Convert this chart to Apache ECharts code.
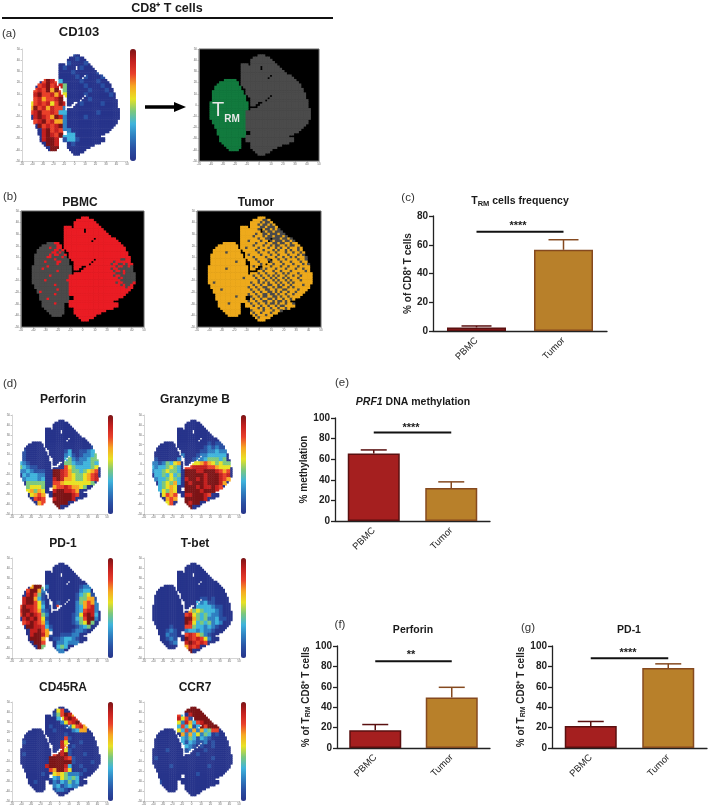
<!DOCTYPE html>
<html>
<head>
<meta charset="utf-8">
<style>html,body{margin:0;padding:0;background:#fff}#c{width:709px;height:810px}</style>
<script src="https://cdn.jsdelivr.net/npm/echarts@6/dist/echarts.min.js"></script>
</head>
<body>
<div id="c"></div>
<script>
// ---------- bar chart data ----------
const categories = ['PBMC', 'Tumor'];
const trmFreqMean = [2.5, 56.5];
const trmFreqUpper = [3.5, 63.5];
const prf1Mean = [65.5, 32];
const prf1Upper = [69, 38];
const perforinMean = [17.5, 49.5];
const perforinUpper = [23, 59.5];
const pd1Mean = [21.5, 78.5];
const pd1Upper = [26, 82.5];
const yTicks80 = [0, 20, 40, 60, 80];
const yTicks100 = [0, 20, 40, 60, 80, 100];

// ---------- t-SNE map outline, read row by row: [y, [x from, x to], ...] ----------
const outlineRows = [
[44,[0,4]],[42,[-4,8]],[40,[-6,10]],[38,[-6,12]],[36,[-14,-10],[-6,14]],
[34,[-14,-8],[-6,0],[4,16]],[32,[-14,0],[4,18]],[30,[-14,20]],[28,[-14,22]],
[26,[-14,8],[12,26]],[24,[-14,6],[10,28]],[22,[-28,-20],[-14,30]],[20,[-32,-18],[-14,32]],
[18,[-34,-18],[-14,34]],[16,[-36,-16],[-12,34]],[14,[-36,-16],[-10,36]],[12,[-38,-14],[-10,36]],
[10,[-38,-14],[-10,38]],[8,[-38,-12],[-8,8],[12,38]],[6,[-38,-12],[-6,6],[10,38]],
[4,[-38,-12],[-6,4],[8,40]],[2,[-40,-10],[-6,-2],[4,40]],[0,[-40,-10],[-6,-4],[2,40]],
[-2,[-40,-10],[0,40]],[-4,[-40,-10],[-6,42]],[-6,[-40,-12],[-10,42]],[-8,[-40,-12],[-10,42]],
[-10,[-40,-12],[-10,42]],[-12,[-40,-12],[-10,42]],[-14,[-38,-12],[-10,40]],[-16,[-38,-12],[-10,40]],
[-18,[-36,-12],[-10,38]],[-20,[-36,-12],[-10,36]],[-22,[-34,-12],[-10,34]],[-24,[-34,-12],[-6,32]],
[-26,[-34,-12],[-6,28]],[-28,[-32,-12],[-10,24]],[-30,[-32,-16],[-10,28]],[-32,[-32,-16],[-10,28]],
[-34,[-30,-16],[-6,24]],[-36,[-28,-16],[-6,18]],[-38,[-26,-16],[-6,14]],[-40,[-24,-18],[-4,10]],
[-42,[-2,8]],[-44,[0,4]]
];

// ---------- per-panel level maps (rows y=44..-44, columns x=-44..44) ----------
const cd103Levels = [
'00000000000100000000000','00000000000010000000000','00000000001000100000000','00000000010001000100000',
'00000000000100000100000','00000534000010100010000','00007987300001000100000','00078978840000100010000',
'00787969740000010001000','00897786850000100000100','00786778970000010000000','05787857980001000010000',
'06978687720000000000000','07897787330000000100000','00898769820000100000000','00789786620000000000000',
'00097878920000000000000','00008978722000000000000','00008987933300000000000','00008998813310000000000',
'00000998800100000000000','00000099000000000000000','00000000000000000000000'];
const trmRegion = [
'00000000000000000000000','00000000000000000000000','00000000000000000000000','00000000000000000000000',
'00000000000000000000000','00000000000000000000000','11111111000000000000000','11111111000000000000000',
'11111111100000000000000','11111111100000000000000','11111111100000000000000','11111111110000000000000',
'11111111110000000000000','11111111100000000000000','11111111100000000000000','11111111100000000000000',
'11111111100000000000000','11111111100000000000000','11111111100000000000000','11111111100000000000000',
'11111111100000000000000','11111111100000000000000','00000000000000000000000'];
// fine maps: rows y=44..-44 and columns x=-44..44 in steps of 2; characters left off the end count as 1
const pbmcRegion = [
'','','','','','','','','','','',
'00000000000110','000000000000110','000000000100110','0000000000011010','0000000000110100',
'00000000010110010','00000000110000100',
'000000000001000001111111111111111111110011111',
'000000010000110001111111111111111110111111111',
'000000000000100001111111111111111101100101111',
'000000001000000000111111111111111111011001011',
'000000100000000000111111111111111101100000011',
'000000000000100000011111111111111110110100001',
'000000000000000000111111111111111111000100001',
'000000000100000001111111111111111110110000001',
'000000000000000001111111111111111111101000001',
'000000010000000011111111111111111111110000001',
'000000000000000001111111111111111111011000011',
'000000000001000001111111111111111111110100111',
'000000000000000001111111111111111111111101111',
'00000000000010000','00000100000000000','00000000000100000','00000000000000000',
'00000000100000000','00000000000000000','00000000000100000','00000000000000000',
'00000010000000000','00000000000000000','00000000000000000','00000000000000000','',''];
const tumorRegion = [
'111111111111111111111111100000000000000000000',
'111111111111111111111111001111111111111111111',
'111111111111111111111110100111111111111111111',
'111111111111111111111101001011111111111111111',
'111111111111111111111110010001111111111111111',
'111111111111111111111101100101011111111111111',
'111111111111111111111110010010001111111111111',
'111111111111111111111011001000100111111111111',
'111111111111111111110111010010001011111111111',
'111111111111111111111101100100010010111111111',
'111111111111111111011110110010001001011111111',
'111111111111111111111011101100100110110111111',
'111111111111111111110111011010011010011011111',
'111111111111111110111101110110101101110101111',
'111111111111111111111011011101011010110110111',
'111111111011111111111101110110111011011011111',
'111111111111111111011110111011011101110101111',
'111111111111111111110111101110110110101110111',
'111111111111111111111011110111011011110110111',
'111111111111101111111101111011101110111011111',
'111111111111111111111110111101110111011101011',
'111111111111111111110111111011101101110111111',
'111111111011111111111110101110111011101101111',
'111111111111111111111111011101101110111110111',
'111111111111111111111101101110110101110111111',
'111111111111111111110110110101011011011011111',
'111111111111111101111011011010110101110111111',
'111111111111111111111101101101011010111011111',
'111101111111111111101101010110101101011111111',
'111111111111111111110110110011010110111101111',
'111111111111111111011011001101001101011111111',
'111111101111111111101101100110110011110111111',
'111111111111111111110110110010101101101111111',
'111111111111111111011011001001011011011111111',
'111111111111101111101101001100101101111111111',
'111111111111111111110110110010110110111111111',
'111111111111111111011011001101001011101111111',
'111111111101111111101101101001011011011111111',
'111111111111111111110110110110100111111111111',
'111111111111111111011101011011011011111111111',
'111111111111111111101111011101101111111111111',
'111111111111111111110110111011011111111111111',
'111111111111111111111011101110111111111111111',
'111111111111111111111101111011111111111111111',
'111111111111111111111111111111111111111111111'];
const perforinLevels = [
'00000000000000000000000','00000000000000000000000','00000000000000000000000','00000000000000000000000',
'00000000000000000000000','00000000000000000000000','00000000000000000000000','00000000000000000000100',
'00100000000001300112340','01100000000002310122340','02100000000003421223440','03210000000004432233430',
'04321100000007543333450','02232111009987644345670','00323322009987654456780','00233323008986654456780',
'00044444007765555555400','00045554006778766540000','00056465008998876000000','00005676009999987000000',
'00000787008999980000000','00000067009999000000000','00000000009900000000000'];
const granzymeLevels = [
'00000000000000000000000','00000000000000000000000','00000000000000000000000','00000000000000000000000',
'00000000000000000000000','00000000000000000000000','00000000000000001011000','00000000000000012121100',
'00000000000000112232200','00000000020001223333300','00100000230012234443400','02212435600055676545440',
'03233454307788887765550','02334544309998899987670','00334353409999989998780','00233454308998989998760',
'00034546309899989998600','00034565009998988987000','00035465009999899980000','00005767008899987000000',
'00000676009999980000000','00000570009899000000000','00000000009900000000000'];
const pd1Levels = [
'00000000000000000000000','00000000000000000000000','00000000000000000000000','00000000000000000000000',
'00000000000000000000000','00000000000000000001000','00006994200000000122000','00079962100000000233000',
'00089741000000001345100','00899631000000001446610','00899752000100002467620','07988753010700002367820',
'08998762100000002378820','07989874200000012589830','00898975100000013479920','00789876200000012459400',
'00099887310000001234000','00008897620000012210000','00008998610011122000000','00009996501123321000000',
'00000997500223222000000','00000094000343000000000','00000000000220000000000'];
const tbetLevels = [
'00000000000000000000000','00000000000000000000000','00000000000000000000000','00000000000000000000000',
'00000000000000000000000','00000000000000000000000','00000000000000000000000','00000000000000000000000',
'00000000000000000000000','00000000000000110100000','00000000000003231100000','00000000000003333211000',
'00000000000645433321000','00000000007854343221000','00000000009964342231100','00000000009853434232000',
'00000010007743323210000','00000121002332322100000','00000211007876421000000','00000121009878752000000',
'00000012008987870000000','00000000006878000000000','00000000000900000000000'];
const cd45raLevels = [
'00000000000000000000000','00000000000570000000000','00000000001479860000000','00000000000358987000000',
'00000000000025789700000','00000000010001257860000','00000000001000023660000','00000000000001000000000',
'00000000000007100000000','00100000000085000100000','00000000000086010000000','00000000000085100000000',
'00100000007989100010000','00000000099998710000000','00000000099999910000100','00000000899998300100000',
'00000000076997500010000','00000001005654222100000','00000000013254343000000','00000100002132423000000',
'00000000002312322000000','00000000001221000000000','00000000000000000000000'];
const ccr7Levels = [
'00000000000990000000000','00000000009999900000000','00000000730899999000000','00000000857199999900000',
'00000000528637899990000','00000000373513979995000','00000000537262634770000','00000000062635243010000',
'00000000032431321000000','00000000031321120100000','00000000003210100100000','00000100001200010000000',
'00000000000001000000000','00100000000000000100000','00000000000000000000000','00000010000000001000000',
'00000000000000000000000','00000000000001000000000','00000000000000000000000','00010000000000000000000',
'00000000000000000000000','00000000000000000000000','00000000000000000000000'];

// ---------- styling ----------
const FONT = '"Liberation Sans", Arial, sans-serif';
const jet = ['#27348b','#2a50a3','#2f7fc1','#3fb4dc','#7cc87d','#e8e224','#f7a823','#e9402a','#c4201f','#7c1416'];
const barFill = ['#a51f1f', '#b8802a'];
const barEdge = ['#5a1010', '#85491f'];
const GRAY = '#4b4b4b';

function cells(levels) {
  const fine = levels.length === 45;
  const step = fine ? 2 : 4;
  const out = [];
  outlineRows.forEach(row => {
    const y = row[0];
    const r = Math.round((44 - y) / step);
    row.slice(1).forEach(s => {
      for (let x = s[0]; x <= s[1]; x += 2) {
        const c = Math.round((x + 44) / step);
        const ch = (levels[r] || '')[c];
        out.push([x, y, ch === undefined ? (fine ? 1 : 0) : +ch]);
      }
    });
  });
  return out;
}

const maps = [
  {levels: cd103Levels, l: 22, t: 49, w: 105, h: 112, bar: [130, 6]},
  {levels: trmRegion, l: 199, t: 49, w: 120, h: 112, on: '#127a3e', off: GRAY},
  {levels: pbmcRegion, l: 21, t: 211, w: 123, h: 116, on: '#ea1c24', off: GRAY},
  {levels: tumorRegion, l: 197, t: 211, w: 124, h: 116, on: '#eeaa1c', off: GRAY},
  {levels: perforinLevels, l: 12, t: 415, w: 95, h: 99, bar: [108, 5]},
  {levels: granzymeLevels, l: 144, t: 415, w: 95, h: 99, bar: [241, 5]},
  {levels: pd1Levels, l: 12, t: 558, w: 95, h: 100, bar: [108, 5]},
  {levels: tbetLevels, l: 144, t: 558, w: 95, h: 100, bar: [241, 5]},
  {levels: cd45raLevels, l: 12, t: 702, w: 95, h: 99, bar: [108, 5]},
  {levels: ccr7Levels, l: 144, t: 702, w: 95, h: 99, bar: [241, 5]}
];

const bars = [
  {mean: trmFreqMean, upper: trmFreqUpper, ticks: yTicks80, max: 80, sig: 69, l: 433, r: 607, t: 216, b: 331, bw: 59, cap: 30, name: '{a|% of CD8⁺ T cells}', gap: 17},
  {mean: prf1Mean, upper: prf1Upper, ticks: yTicks100, max: 100, sig: 86, l: 335, r: 490, t: 418, b: 521, bw: 52, cap: 26, name: '{a|% methylation}', gap: 21},
  {mean: perforinMean, upper: perforinUpper, ticks: yTicks100, max: 100, sig: 85, l: 337, r: 490, t: 646, b: 748, bw: 52, cap: 26, name: '{a|% of T}{s|RM}{a| CD8⁺ T cells}', gap: 23},
  {mean: pd1Mean, upper: pd1Upper, ticks: yTicks100, max: 100, sig: 88, l: 552, r: 707, t: 646, b: 748, bw: 52, cap: 26, name: '{a|% of T}{s|RM}{a| CD8⁺ T cells}', gap: 17}
];

const grid = [], xAxis = [], yAxis = [], series = [], visualMap = [];

maps.forEach((m, i) => {
  const dark = !!m.on;
  grid.push({left: m.l, top: m.t, width: m.w, height: m.h, show: dark, backgroundColor: '#000', borderColor: '#666', borderWidth: 1});
  const axisBase = {
    type: 'value', min: -50, max: 50, interval: 10, gridIndex: i, splitLine: {show: false},
    axisLine: {show: true, onZero: false, lineStyle: {color: '#aaa', width: 0.5}},
    axisTick: {show: true, length: 1.5, lineStyle: {color: '#888', width: 0.5}},
    axisLabel: {fontSize: 3, color: '#666', margin: 2, fontFamily: FONT, showMinLabel: true, showMaxLabel: true}
  };
  xAxis.push(axisBase);
  yAxis.push(axisBase);
  const sx = m.w / 100 * 2.5, sy = m.h / 100 * 2.5;
  const s = {
    type: 'scatter', xAxisIndex: i, yAxisIndex: i, data: cells(m.levels), symbol: 'rect', symbolSize: [sx, sy],
    silent: true, animation: false, itemStyle: {opacity: 1}
  };
  if (dark) s.itemStyle.color = p => p.data[2] ? m.on : m.off;
  series.push(s);
  if (m.bar) {
    visualMap.push({
      type: 'continuous', min: 0, max: 9, dimension: 2, seriesIndex: i, show: true, calculable: false, hoverLink: false,
      left: m.bar[0], top: m.t, itemWidth: m.bar[1], itemHeight: m.h, padding: 0, text: null, showLabel: false,
      textStyle: {fontSize: 1, color: 'transparent'}, inRange: {color: jet}
    });
  }
});

bars.forEach((b, k) => {
  const gi = maps.length + k;
  grid.push({left: b.l, top: b.t, width: b.r - b.l, height: b.b - b.t});
  xAxis.push({
    type: 'category', gridIndex: gi, data: categories,
    axisLine: {lineStyle: {color: '#222', width: 1.3}},
    axisTick: {alignWithLabel: true, length: 4, lineStyle: {color: '#222', width: 1.3}},
    axisLabel: {rotate: 45, fontSize: 9.5, color: '#222', margin: 8, fontFamily: FONT, interval: 0}
  });
  yAxis.push({
    type: 'value', gridIndex: gi, min: 0, max: b.max, interval: 20, splitLine: {show: false},
    axisLine: {show: true, lineStyle: {color: '#222', width: 1.3}},
    axisTick: {show: true, length: 4, lineStyle: {color: '#222', width: 1.3}},
    axisLabel: {fontSize: 10, fontWeight: 'bold', color: '#222', margin: 5, fontFamily: FONT, formatter: v => b.ticks.includes(v) ? v : ''},
    name: b.name, nameLocation: 'middle', nameRotate: 90, nameGap: b.gap,
    nameTextStyle: {rich: {
      a: {fontSize: 10, fontWeight: 'bold', color: '#222', fontFamily: FONT},
      s: {fontSize: 7, fontWeight: 'bold', color: '#222', fontFamily: FONT, verticalAlign: 'bottom', padding: [4, 0, 0, 0]}
    }}
  });
  series.push({
    type: 'bar', xAxisIndex: gi, yAxisIndex: gi, barWidth: b.bw, silent: true, animation: false,
    data: b.mean.map((v, i) => ({value: v, itemStyle: {color: barFill[i], borderColor: barEdge[i], borderWidth: 1.5}}))
  });
  series.push({
    type: 'custom', xAxisIndex: gi, yAxisIndex: gi, silent: true, animation: false, z: 1,
    data: b.mean.map((v, i) => [i, v, b.upper[i]]),
    encode: {x: 0, y: [1, 2]},
    renderItem: (params, api) => {
      const lo = api.coord([api.value(0), api.value(1)]);
      const hi = api.coord([api.value(0), api.value(2)]);
      const st = {stroke: barEdge[api.value(0)], lineWidth: 1.5, fill: 'none'};
      return {type: 'group', children: [
        {type: 'line', shape: {x1: lo[0], y1: lo[1], x2: hi[0], y2: hi[1]}, style: st},
        {type: 'line', shape: {x1: hi[0] - b.cap / 2, y1: hi[1], x2: hi[0] + b.cap / 2, y2: hi[1]}, style: st}
      ]};
    }
  });
  series.push({
    type: 'line', xAxisIndex: gi, yAxisIndex: gi, silent: true, animation: false, symbol: 'none',
    data: [b.sig, b.sig], lineStyle: {color: '#111', width: 2}
  });
});

const T = (text, x, y, size, extra) => ({
  text, left: x, top: y, textAlign: 'center', padding: 0,
  textStyle: Object.assign({fontFamily: FONT, fontSize: size, fontWeight: 'bold', color: '#1a1a1a'}, extra || {})
});
const P = (text, x, y) => T(text, x, y, 11.5, {fontWeight: 'normal', color: '#333'});
const subRich = {
  a: {fontFamily: FONT, fontSize: 10.5, fontWeight: 'bold', color: '#1a1a1a'},
  s: {fontFamily: FONT, fontSize: 7.5, fontWeight: 'bold', color: '#1a1a1a', verticalAlign: 'bottom', padding: [5, 0, 0, 0]},
  i: {fontFamily: FONT, fontSize: 10.5, fontWeight: 'bold', fontStyle: 'italic', color: '#1a1a1a'}
};
const title = [
  T('CD8⁺ T cells', 167, 2, 12.5),
  P('(a)', 9, 28), T('CD103', 79, 26, 13),
  P('(b)', 10, 191), T('PBMC', 80, 197, 12), T('Tumor', 256, 197, 12),
  P('(c)', 408, 192), T('{a|T}{s|RM}{a| cells frequency}', 520, 195, 11, {rich: subRich}),
  P('(d)', 10, 378),
  T('Perforin', 63, 394, 12), T('Granzyme B', 195, 394, 12),
  T('PD-1', 63, 538, 12), T('T-bet', 195, 538, 12),
  T('CD45RA', 63, 682, 12), T('CCR7', 195, 682, 12),
  P('(e)', 342, 377), T('{i|PRF1}{a| DNA methylation}', 413, 397, 10.5, {rich: subRich}),
  P('(f)', 340, 619), T('Perforin', 413, 625, 10.5),
  P('(g)', 528, 622), T('PD-1', 629, 625, 10.5),
  T('****', 518, 220, 11), T('****', 411, 422, 11), T('**', 411, 649, 11), T('****', 628, 647, 11),
  T('T', 218, 100, 20, {color: '#e8e8e8', fontWeight: 'normal'}), T('RM', 232, 114, 10, {color: '#e8e8e8'})
];

const graphic = [
  {type: 'line', shape: {x1: 2, y1: 18, x2: 333, y2: 18}, style: {stroke: '#111', lineWidth: 2}, silent: true},
  {type: 'line', shape: {x1: 145, y1: 107, x2: 175, y2: 107}, style: {stroke: '#000', lineWidth: 3.5}, silent: true},
  {type: 'polygon', shape: {points: [[174, 102], [186, 107], [174, 112]]}, style: {fill: '#000'}, silent: true}
];

const chart = echarts.init(document.getElementById('c'), null, {renderer: 'canvas'});
chart.setOption({animation: false, backgroundColor: '#fff', title, graphic, grid, xAxis, yAxis, series, visualMap});
</script>
</body>
</html>
